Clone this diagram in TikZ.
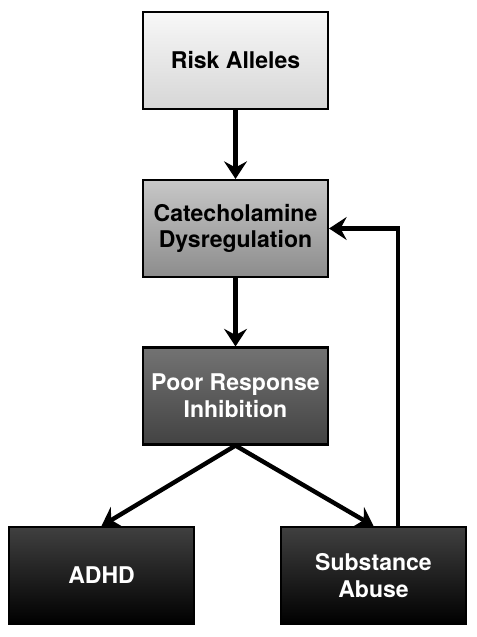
\documentclass[tikz,border=0pt]{standalone}
\usepackage{fontspec}
\setmainfont{TeX Gyre Heros}
\usetikzlibrary{arrows.meta}

\tikzset{
  stage/.style={draw=black, line width=1.2pt, minimum width=3.7cm, minimum height=1.94cm,
    align=center, font=\bfseries\fontsize{13.1}{15.3}\selectfont},
  flow/.style={line width=2.5pt, -{Stealth[length=10pt,width=13pt,inset=3.5pt]}}
}

\begin{document}
\begin{tikzpicture}
				\useasboundingbox (0,0) rectangle (9.54,-12.74);
				
				\node[stage, top color=black!3, bottom color=black!16] (risk) at (4.71,-1.21) {Risk Alleles};
				\node[stage, top color=black!22, bottom color=black!45] (cat) at (4.71,-4.57) {Catecholamine\\Dysregulation};
				\node[stage, top color=black!55, bottom color=black!74, text=white] (poor) at (4.71,-7.92) {Poor Response\\Inhibition};
				\node[stage, top color=black!75, bottom color=black, text=white] (adhd) at (2.03,-11.51) {ADHD};
				\node[stage, top color=black!75, bottom color=black, text=white] (abuse) at (7.47,-11.51) {Substance\\Abuse};
				
				\draw[flow] (risk) -- (cat);
				\draw[flow] (cat) -- (poor);
				\draw[flow] (poor.south) -- (adhd.north);
				\draw[flow] (poor.south) -- (abuse.north);
				\draw[flow] ([xshift=0.49cm]abuse.north) |- (cat.east);
			\end{tikzpicture}
\end{document}
